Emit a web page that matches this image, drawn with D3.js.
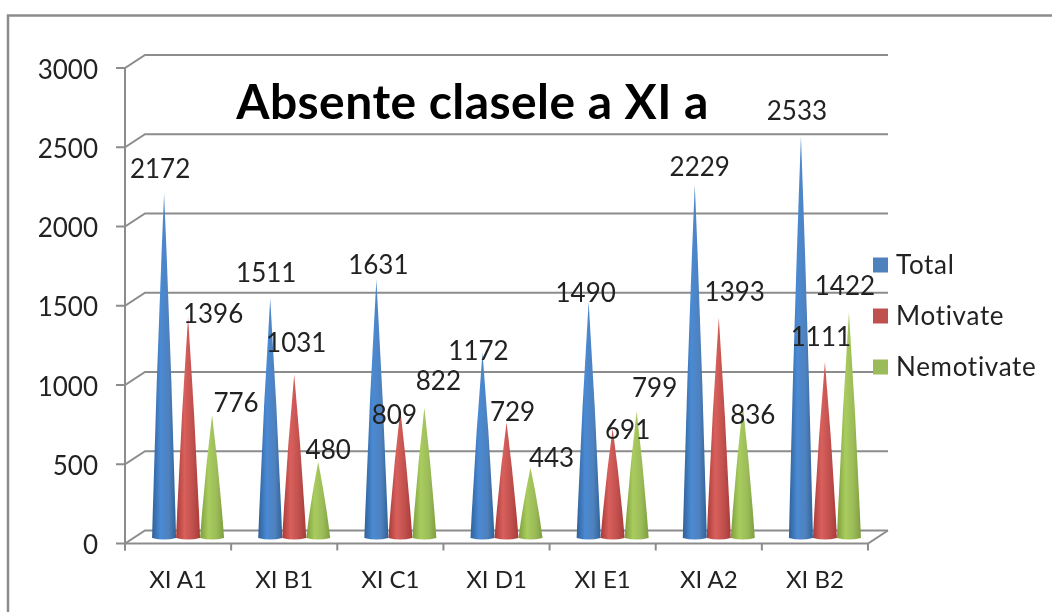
<!DOCTYPE html>
<html><head><meta charset="utf-8">
<script src="https://d3js.org/d3.v7.min.js"></script>
<style>html,body{margin:0;padding:0;background:#fff}svg{display:block;filter:blur(0.45px)}text{font-family:Lato,"Open Sans",sans-serif;fill:#222}</style>
</head><body><svg id="c" width="1052" height="612"></svg>
<script>
const categories = ["XI A1","XI B1","XI C1","XI D1","XI E1","XI A2","XI B2"];
const seriesNames = ["Total","Motivate","Nemotivate"];
const total = [2172,1511,1631,1172,1490,2229,2533];
const motivate = [1396,1031,809,729,691,1393,1111];
const nemotivate = [776,480,822,443,799,836,1422];
const yTicks = [0,500,1000,1500,2000,2500,3000];
const titleText = "Absente clasele a XI a";

// layout only: hand placement of the data labels relative to each cone tip
const nudgeTotal = [[-4,-25],[-4,-26],[2,-15],[-4,-1],[-3,-9],[5,-18],[-4,-26]];
const nudgeMotivate = [[25,-3],[2,-32],[-6,5],[6,-11],[15,1],[16,-25],[-4,-25]];
const nudgeNemotivate = [[24,-12],[10,-12],[14,-27],[21,-10],[18,-23],[10,9],[-4,-27]];

const palette = [
  {base:"#4F81BD",dark:"#2f6199",light:"#4a8ad4"},
  {base:"#C0504D",dark:"#a83a37",light:"#d9605c"},
  {base:"#9BBB59",dark:"#7d9e3c",light:"#a9cc5e"}
];
const svg = d3.select("#c");
const grey = "#8c8c8c";
const depthX = 20, depthY = 13;
const front = {left:125,right:868,bottom:543.5,top:68};

const y = d3.scaleLinear().domain([0,3000]).range([front.bottom,front.top]);
const x = d3.scaleBand().domain(categories).range([front.left,front.right]);
const sx = d3.scaleBand().domain(seriesNames).range([-36,36]);

// frame
svg.append("path").attr("d",`M8,612V15.5H1052`).attr("fill","none").attr("stroke",grey).attr("stroke-width",2.5);

// walls and gridlines
const line = d3.line();
const axisG = svg.append("g").attr("fill","none").attr("stroke",grey).attr("stroke-width",2);
yTicks.forEach(t=>{
  const p=y(t);
  axisG.append("path").attr("d",line([[front.left-9,p],[front.left,p],[front.left+depthX,p-depthY],[front.right+depthX,p-depthY]]));
});
axisG.append("path").attr("d",line([[front.left,y(3000)],[front.left,front.bottom+7]]));
axisG.append("path").attr("d",line([[front.left,front.bottom],[front.right,front.bottom],[front.right+depthX,front.bottom-depthY]]));
d3.range(categories.length+1).forEach(i=>{
  const tx=front.left+i*x.step();
  axisG.append("path").attr("d",line([[tx,front.bottom],[tx,front.bottom+7]]));
});

// y labels
svg.append("g").selectAll("text").data(yTicks).join("text")
  .attr("x",98).attr("y",d=>y(d)+1.5).attr("dy","0.35em").attr("text-anchor","end")
  .attr("font-size",26).text(d=>d);
// x labels
svg.append("g").selectAll("text").data(categories).join("text")
  .attr("x",d=>x(d)+x.bandwidth()/2).attr("y",588).attr("text-anchor","middle")
  .attr("font-size",24).text(d=>d);

// gradients
const defs = svg.append("defs");
palette.forEach((c,i)=>{
  const g=defs.append("linearGradient").attr("id","g"+i);
  g.append("stop").attr("offset","0%").attr("stop-color",c.dark);
  g.append("stop").attr("offset","35%").attr("stop-color",c.light);
  g.append("stop").attr("offset","70%").attr("stop-color",c.base);
  g.append("stop").attr("offset","100%").attr("stop-color",c.dark);
});

// cones
const baseDrop = 5.5, halfW = 12, ry = 1.5, bulge = 1.5;
const cy = v => y(v)-baseDrop;
const groupX = c => x(c)+x.bandwidth()/2+10;
const columns = [total,motivate,nemotivate];
const nudges = [nudgeTotal,nudgeMotivate,nudgeNemotivate];
const layer = svg.append("g");
categories.forEach((c,ci)=>{
  seriesNames.forEach((s,si)=>{
    const v=columns[si][ci];
    const cx=groupX(c)+sx(s)+sx.bandwidth()/2;
    const by=cy(0), ty=cy(v), my=(by+ty)/2;
    const p=d3.path();
    p.moveTo(cx,ty);
    p.quadraticCurveTo(cx+halfW/2+bulge,my,cx+halfW,by);
    p.quadraticCurveTo(cx,by+2*ry,cx-halfW,by);
    p.quadraticCurveTo(cx-halfW/2-bulge,my,cx,ty);
    p.closePath();
    layer.append("path").attr("d",p.toString()).attr("fill",`url(#g${si})`);
  });
});
// data labels
const lbl = svg.append("g");
categories.forEach((c,ci)=>{
  seriesNames.forEach((s,si)=>{
    const v=columns[si][ci];
    const cx=groupX(c)+sx(s)+sx.bandwidth()/2;
    const n=nudges[si][ci];
    lbl.append("text").attr("x",cx+n[0]).attr("y",cy(v)+n[1]).attr("dy","0.35em")
      .attr("text-anchor","middle").attr("font-size",26).text(v);
  });
});

// legend
const leg = svg.append("g");
seriesNames.forEach((s,i)=>{
  const ly=265+i*51;
  leg.append("rect").attr("x",873).attr("y",ly-7.5).attr("width",15).attr("height",15).attr("fill",palette[i].base);
  leg.append("text").attr("x",896).attr("y",ly).attr("dy","0.35em").attr("font-size",26).attr("letter-spacing",0.7).text(s);
});

// title
svg.append("text").attr("x",472.5).attr("y",119).attr("text-anchor","middle")
  .attr("font-size",48).attr("letter-spacing",0.45).attr("font-weight",700).style("fill","#000").text(titleText);
</script></body></html>
